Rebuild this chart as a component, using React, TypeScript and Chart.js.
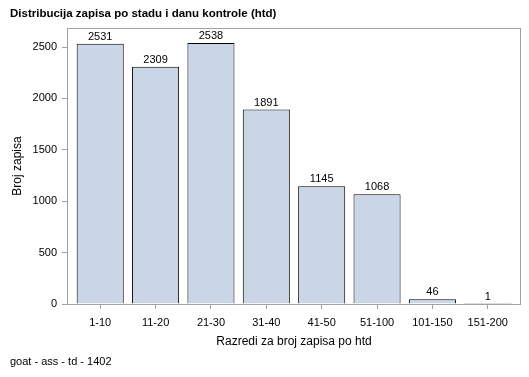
import React, { useEffect, useRef } from "react";
import { Chart, registerables } from "chart.js";

Chart.register(...registerables);

const categories = ["1-10", "11-20", "21-30", "31-40", "41-50", "51-100", "101-150", "151-200"];
const counts = [2531, 2309, 2538, 1891, 1145, 1068, 46, 1];
const yTicks = [0, 500, 1000, 1500, 2000, 2500];
const titleText = "Distribucija zapisa po stadu i danu kontrole (htd)";
const footnoteText = "goat - ass - td - 1402";
const xTitle = "Razredi za broj zapisa po htd";
const yTitle = "Broj zapisa";

const FONT = "'Liberation Sans', Arial, sans-serif";

export default function App() {
  const ref = useRef<HTMLCanvasElement>(null);
  useEffect(() => {
    document.body.style.margin = "0";
    const ctx = ref.current!;
    const framePlugin = {
      id: "frame",
      afterDraw(chart: any) {
        const { ctx, chartArea } = chart;
        ctx.save();
        ctx.strokeStyle = "#a0a0a0";
        ctx.lineWidth = 1;
        ctx.strokeRect(
          Math.round(chartArea.left) + 0.5,
          Math.round(chartArea.top) + 0.5,
          Math.round(chartArea.right - chartArea.left) - 1,
          Math.round(chartArea.bottom - chartArea.top)
        );
        ctx.fillStyle = "#000";
        ctx.font = `11px ${FONT}`;
        ctx.textAlign = "center";
        ctx.textBaseline = "alphabetic";
        const meta = chart.getDatasetMeta(0);
        meta.data.forEach((bar: any, i: number) => {
          ctx.fillText(String(counts[i]), bar.x, bar.y - 4);
        });
        ctx.textAlign = "left";
        ctx.textBaseline = "middle";
        ctx.font = `bold 11.5px ${FONT}`;
        ctx.fillText(titleText, 10, 14);
        ctx.font = `11px ${FONT}`;
        ctx.fillText(footnoteText, 10, 362);
        ctx.restore();
      },
    };
    const chart = new Chart(ctx, {
      type: "bar",
      data: {
        datasets: [
          {
            data: counts.map((v, i) => ({ x: i, y: v })),
            backgroundColor: "#cad5e5",
            borderColor: "#000000",
            borderWidth: 1,
            borderSkipped: "bottom",
            barPercentage: 0.85,
            categoryPercentage: 1,
          },
        ],
      },
      options: {
        animation: false,
        responsive: false,
        maintainAspectRatio: false,
        layout: { padding: { top: 28, right: 8, bottom: 24, left: 0 } },
        plugins: {
          legend: { display: false },
          tooltip: { enabled: false },
          title: { display: false },
        },
        scales: {
          x: {
            type: "linear",
            offset: false,
            min: -0.6,
            max: 7.6,
            afterFit: (s: any) => {
              s.height = 49;
              s.paddingLeft = 0;
              s.paddingRight = 0;
            },
            afterBuildTicks: (s: any) => {
              s.ticks = categories.map((_, i) => ({ value: i }));
            },
            ticks: {
              autoSkip: false,
              maxRotation: 0,
              padding: 7,
              color: "#000",
              font: { family: FONT, size: 11 },
              callback: (v: any) => categories[v as number] ?? "",
            },
            grid: {
              display: true,
              offset: false,
              drawOnChartArea: false,
              drawTicks: true,
              tickLength: 5,
              color: "#a0a0a0",
            },
            border: { display: false },
            title: {
              display: true,
              text: xTitle,
              color: "#000",
              font: { family: FONT, size: 12 },
              padding: { top: 0, bottom: 4 },
            },
          },
          y: {
            type: "linear",
            min: 0,
            max: 2685,
            afterFit: (s: any) => {
              s.width = 67;
              s.paddingTop = 0;
              s.paddingBottom = 0;
            },
            afterBuildTicks: (s: any) => {
              s.ticks = yTicks.map((v) => ({ value: v }));
            },
            ticks: {
              padding: 5,
              color: "#000",
              font: { family: FONT, size: 11 },
              callback: (v: any) => String(v),
            },
            grid: {
              display: true,
              drawOnChartArea: false,
              drawTicks: true,
              tickLength: 5,
              color: "#a0a0a0",
            },
            border: { display: false },
            title: {
              display: true,
              text: yTitle,
              color: "#000",
              font: { family: FONT, size: 12 },
              padding: { top: 10, bottom: 0 },
            },
          },
        },
      },
      plugins: [framePlugin],
    });
    return () => chart.destroy();
  }, []);
  return (
    <div style={{ width: 529, height: 377, background: "#fff" }}>
      <canvas ref={ref} width={529} height={377} />
    </div>
  );
}
